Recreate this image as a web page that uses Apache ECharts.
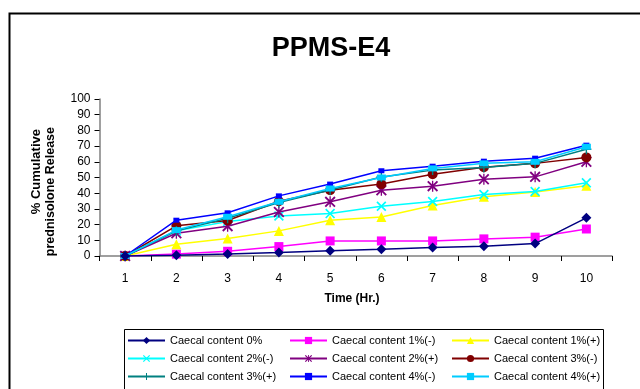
<!DOCTYPE html>
<html><head><meta charset="utf-8">
<script src="https://cdn.jsdelivr.net/npm/echarts@6/dist/echarts.min.js"></script>
<style>html,body{margin:0;padding:0;background:#fff}#c{width:640px;height:389px}</style>
</head><body><div id="c"></div>
<script>
const categories = ['1','2','3','4','5','6','7','8','9','10'];
const seriesNames = ['Caecal content 0%','Caecal content 1%(-)','Caecal content 1%(+)','Caecal content 2%(-)','Caecal content 2%(+)','Caecal content 3%(-)','Caecal content 3%(+)','Caecal content 4%(-)','Caecal content 4%(+)'];
const cc0   = [0, 0.5, 1.3, 2.2, 3.4, 4.3, 5.4, 6.2, 7.9, 24.3];
const cc1m  = [0, 1.2, 3.0, 6.0, 9.6, 9.6, 9.6, 10.9, 12.0, 17.2];
const cc1p  = [0, 7.5, 11.1, 16.0, 22.8, 24.9, 32.2, 37.7, 40.8, 44.8];
const cc2m  = [0, 16.0, 22.0, 25.5, 27.0, 31.7, 34.7, 39.2, 41.1, 46.6];
const cc2p  = [0, 14.5, 19.0, 28.0, 34.5, 41.9, 44.5, 48.9, 50.4, 60.0];
const cc3m  = [0, 19.2, 22.6, 34.9, 41.9, 45.8, 52.1, 56.6, 59.0, 62.8];
const cc3p  = [0, 16.0, 24.0, 34.0, 42.0, 50.3, 54.7, 56.4, 59.0, 68.0];
const cc4m  = [0, 22.8, 27.5, 38.3, 45.8, 54.3, 57.2, 60.4, 62.3, 70.6];
const cc4p  = [0, 16.5, 25.0, 34.5, 43.0, 50.0, 55.8, 59.0, 60.0, 69.6];
const yTicks = {min: 0, max: 100, interval: 10};

const data = [cc0, cc1m, cc1p, cc2m, cc2p, cc3m, cc3p, cc4m, cc4p];
const colors = ['#000080','#FF00FF','#FFFF00','#00FFFF','#800080','#800000','#008080','#0000FF','#00CCFF'];
const xPath = 'path://M0,1.2L1.2,0L10,8.8L8.8,10Z M8.8,0L10,1.2L1.2,10L0,8.8Z';
const starPath = 'path://M0,1.2L1.2,0L10,8.8L8.8,10Z M8.8,0L10,1.2L1.2,10L0,8.8Z M4.4,0L5.6,0L5.6,10L4.4,10Z';
const plusPath = 'path://M4.3,0L5.7,0L5.7,10L4.3,10Z M0,4.3L10,4.3L10,5.7L0,5.7Z';
const symbols = ['diamond','rect','triangle',xPath,starPath,'circle',plusPath,'rect','rect'];
const sizes = [10, 9, 10, 10, 11, 10, 10, [6,5], [9,6]];

const chart = echarts.init(document.getElementById('c'), null, {renderer:'canvas'});
const series = seriesNames.map((n,i)=>({
  name: n, type: 'line', data: data[i], symbol: symbols[i], symbolSize: sizes[i],
  showAllSymbol: true, z: 2 + (i===0 ? 9 : i),
  lineStyle: {color: colors[i], width: 1.5},
  itemStyle: {color: colors[i]},
  emphasis: {disabled: true}, animation: false
}));
const FF = 'Liberation Sans, Arial, sans-serif';
const legendFont = {fontFamily: FF, fontSize: 11, color: '#000'};
function mkLegend(left, names){
  return {orient: 'vertical', left: left, top: 335, itemGap: 7, itemWidth: 37, itemHeight: 9,
    data: names, textStyle: legendFont, selectedMode: false, padding: 0};
}
chart.setOption({
  animation: false,
  backgroundColor: '#fff',
  title: {text: 'PPMS-E4', left: 326, top: 30, textAlign: 'center',
    textStyle: {fontFamily: FF, fontWeight: 'bold', fontSize: 27, color: '#000'}},
  grid: {left: 99.5, right: 28, top: 99, bottom: 133, containLabel: false},
  legend: [
    mkLegend(127, [seriesNames[0], seriesNames[3], seriesNames[6]]),
    mkLegend(289, [seriesNames[1], seriesNames[4], seriesNames[7]]),
    mkLegend(451, [seriesNames[2], seriesNames[5], seriesNames[8]])
  ],
  xAxis: {type: 'category', data: categories, boundaryGap: true,
    axisLine: {lineStyle: {color: '#808080', width: 1.5}},
    axisTick: {show: true, length: 5, lineStyle: {color: '#000'}},
    axisLabel: {color: '#000', fontSize: 12, fontFamily: FF, margin: 17},
    splitLine: {show: false}},
  yAxis: {type: 'value', min: yTicks.min, max: yTicks.max, interval: yTicks.interval,
    axisLine: {show: true, lineStyle: {color: '#808080', width: 1.5}},
    axisTick: {show: true, length: 5, lineStyle: {color: '#000'}},
    axisLabel: {color: '#000', fontSize: 12, fontFamily: FF, margin: 9},
    splitLine: {show: false}},
  graphic: [
    {type: 'rect', left: 7, top: 11, shape: {width: 700, height: 500}, style: {fill: null, stroke: '#000', lineWidth: 2}, z: 100},
    {type: 'rect', shape: {x: 124.5, y: 329.5, width: 479, height: 70}, style: {fill: null, stroke: '#000', lineWidth: 1}, z: 100},
    {type: 'text', x: 352, y: 299, style: {text: 'Time (Hr.)', fill: '#000', font: 'bold 12px "Liberation Sans", Arial, sans-serif', textAlign: 'center', textVerticalAlign: 'middle'}, z: 100},
    {type: 'text', x: 36, y: 129, rotation: Math.PI/2,
      style: {text: '% Cumulative', fill: '#000', font: 'bold 13px "Liberation Sans", Arial, sans-serif', textAlign: 'right', textVerticalAlign: 'middle'}, z: 100},
    {type: 'text', x: 51, y: 127, rotation: Math.PI/2,
      style: {text: 'prednisolone Release', fill: '#000', font: 'bold 12.5px "Liberation Sans", Arial, sans-serif', textAlign: 'right', textVerticalAlign: 'middle'}, z: 100}
  ],
  series: series
});
</script></body></html>
